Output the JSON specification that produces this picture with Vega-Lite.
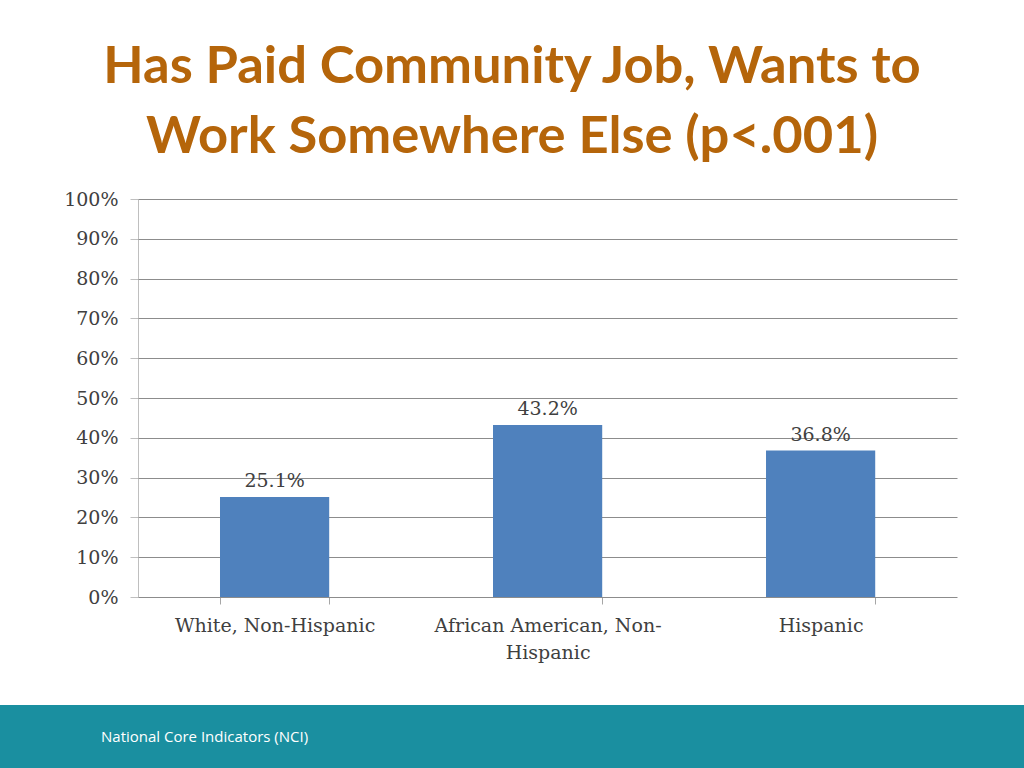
{
  "$schema": "https://vega.github.io/schema/vega-lite/v6.json",
  "padding": {"left": 0, "top": 40, "right": 0, "bottom": 0},
  "background": "white",
  "spacing": 43,
  "bounds": "full",
  "title": {
    "text": ["Has Paid Community Job, Wants to", "Work Somewhere Else (p<.001)"],
    "font": "Lato",
    "fontWeight": "bold",
    "fontSize": 52.5,
    "lineHeight": 70,
    "color": "#B5650A",
    "anchor": "middle",
    "offset": 26
  },
  "config": {
    "view": {"stroke": null},
    "axis": {"labelFont": "DejaVu Serif", "labelFontSize": 19, "labelColor": "#404040"}
  },
  "vconcat": [
    {
      "width": 957,
      "height": 398,
      "data": {
        "values": [
          {"group": "White, Non-Hispanic", "value": 0.251},
          {"group": "African American, Non-Hispanic", "value": 0.432},
          {"group": "Hispanic", "value": 0.368}
        ]
      },
      "encoding": {
        "x": {
          "field": "group",
          "type": "nominal",
          "sort": null,
          "scale": {"paddingInner": 0.6, "paddingOuter": 0.5527, "align": 0.729},
          "axis": {
            "title": null,
            "labelAngle": 0,
            "tickBand": "extent",
            "domain": false,
            "tickColor": "#a6a6a6",
            "tickSize": 7,
            "labelPadding": 12,
            "labelLimit": 400,
            "labelLineHeight": 27,
            "labelExpr": "datum.label == 'African American, Non-Hispanic' ? ['African American, Non-', 'Hispanic'] : datum.label"
          }
        }
      },
      "layer": [
        {
          "mark": {"type": "bar", "color": "#4F81BD"},
          "encoding": {
            "y": {
              "field": "value",
              "type": "quantitative",
              "scale": {"domain": [0, 1]},
              "axis": {
                "title": null,
                "orient": "left",
                "offset": -138,
                "grid": false,
                "format": ".0%",
                "values": [0, 0.1, 0.2, 0.3, 0.4, 0.5, 0.6, 0.7, 0.8, 0.9, 1],
                "domainColor": "#bfbfbf",
                "tickColor": "#bfbfbf",
                "tickSize": 8,
                "labelPadding": 12
              }
            }
          }
        },
        {
          "mark": {"type": "text", "baseline": "bottom", "dy": -6, "font": "DejaVu Serif", "fontSize": 19, "color": "#404040"},
          "encoding": {
            "y": {
              "field": "value",
              "type": "quantitative",
              "axis": {
                "title": null,
                "orient": "right",
                "grid": false,
                "domain": false,
                "labels": false,
                "values": [0, 0.1, 0.2, 0.3, 0.4, 0.5, 0.6, 0.7, 0.8, 0.9, 1],
                "tickColor": "#8c8c8c",
                "tickSize": -819
              }
            },
            "text": {"field": "value", "type": "quantitative", "format": ".1%"}
          }
        }
      ],
      "resolve": {"axis": {"y": "independent"}}
    },
    {
      "width": 1024,
      "height": 63,
      "view": {"fill": "#1A8FA0", "stroke": null},
      "data": {"values": [{"t": "National Core Indicators (NCI)"}]},
      "mark": {"type": "text", "align": "left", "baseline": "middle", "dx": -411, "color": "white", "font": "Open Sans", "fontSize": 15},
      "encoding": {"text": {"field": "t", "type": "nominal"}}
    }
  ]
}
